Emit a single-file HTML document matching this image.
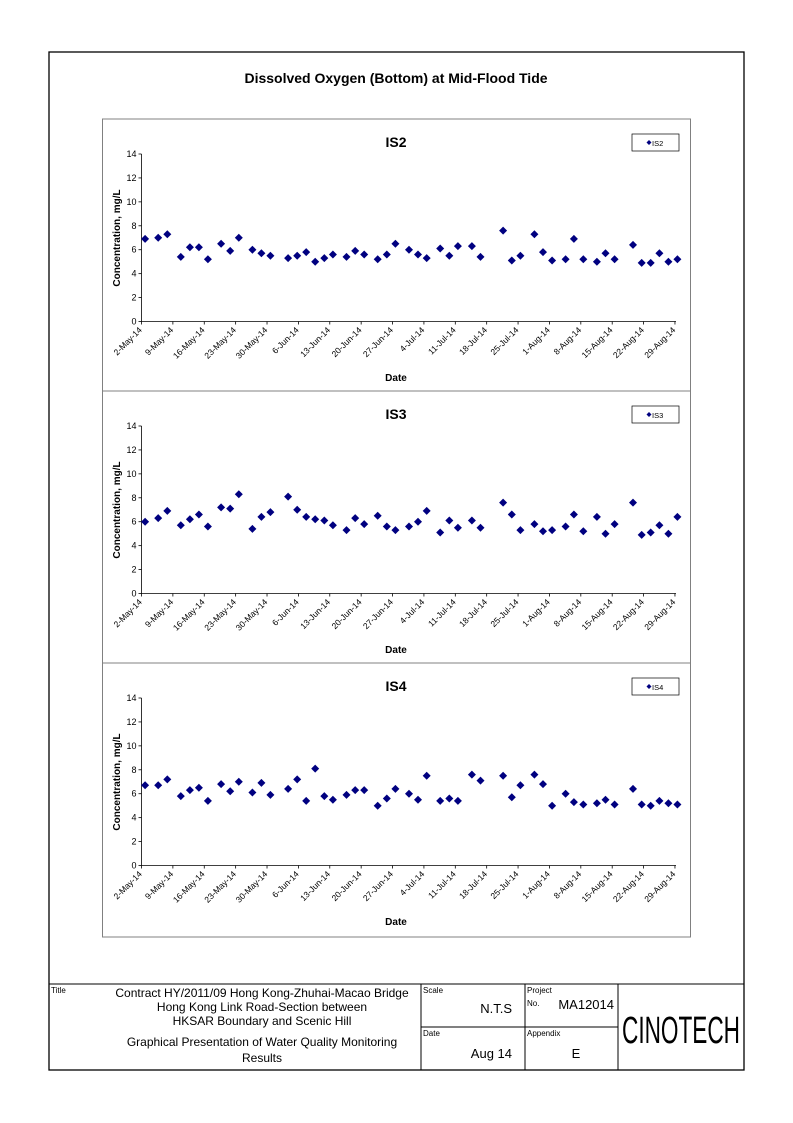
<!DOCTYPE html>
<html><head><meta charset="utf-8"><style>
html,body{margin:0;padding:0;background:#fff;}
svg{display:block;font-family:"Liberation Sans",Arial,sans-serif;}
</style></head><body>
<svg id="s" width="793" height="1123" viewBox="0 0 793 1123" xmlns="http://www.w3.org/2000/svg">
<rect x="0" y="0" width="793" height="1123" fill="#fff"/>
<rect x="49" y="52" width="695" height="1018" fill="none" stroke="#000" stroke-width="1.3"/>
<text x="396" y="83" font-size="14" font-weight="bold" text-anchor="middle">Dissolved Oxygen (Bottom) at Mid-Flood Tide</text>
<rect x="102.5" y="119" width="588" height="818" fill="none" stroke="#808080" stroke-width="1"/>
<line x1="102.5" y1="391" x2="690.5" y2="391" stroke="#808080"/>
<line x1="102.5" y1="663" x2="690.5" y2="663" stroke="#808080"/>
<g id="charts"></g>
<g stroke="#000" stroke-width="1" fill="none">
<line x1="49" y1="984" x2="744" y2="984"/>
<line x1="421" y1="984" x2="421" y2="1070"/>
<line x1="525" y1="984" x2="525" y2="1070"/>
<line x1="618" y1="984" x2="618" y2="1070"/>
<line x1="421" y1="1027" x2="618" y2="1027"/>
</g>
<g font-size="12" text-anchor="middle">
<text x="262" y="997">Contract HY/2011/09 Hong Kong-Zhuhai-Macao Bridge</text>
<text x="262" y="1011">Hong Kong Link Road-Section between</text>
<text x="262" y="1025">HKSAR Boundary and Scenic Hill</text>
<text x="262" y="1046">Graphical Presentation of Water Quality Monitoring</text>
<text x="262" y="1062">Results</text>
</g>
<g font-size="8">
<text x="51" y="993">Title</text>
<text x="423" y="993">Scale</text>
<text x="527" y="993">Project</text>
<text x="527" y="1006">No.</text>
<text x="423" y="1036">Date</text>
<text x="527" y="1036">Appendix</text>
</g>
<g font-size="13">
<text x="512" y="1013" text-anchor="end">N.T.S</text>
<text x="614" y="1009" text-anchor="end">MA12014</text>
<text x="512" y="1058" text-anchor="end">Aug 14</text>
<text x="576" y="1058" text-anchor="middle">E</text>
</g>
<text x="681" y="1043" font-size="38" text-anchor="middle" textLength="118" lengthAdjust="spacingAndGlyphs">CINOTECH</text>
</svg>
<script>
(function(){
var D=[
"112:6.9,147:7.0,171:7.3,207:5.4,231:6.2,255:6.2,279:5.2,314:6.5,338:5.9,361:7.0,397:6.0,421:5.7,445:5.5,492:5.3,516:5.5,540:5.8,564:5.0,588:5.3,611:5.6,647:5.4,670:5.9,694:5.6,730:5.2,754:5.6,777:6.5,813:6.0,837:5.6,860:5.3,896:6.1,920:5.5,943:6.3,980:6.3,1003:5.4,1063:7.6,1086:5.1,1109:5.5,1146:7.3,1169:5.8,1193:5.1,1229:5.2,1251:6.9,1276:5.2,1312:5.0,1335:5.7,1359:5.2,1408:6.4,1431:4.9,1455:4.9,1478:5.7,1502:5.0,1526:5.2",
"112:6.0,147:6.3,171:6.9,207:5.7,231:6.2,255:6.6,279:5.6,314:7.2,338:7.1,361:8.3,397:5.4,421:6.4,445:6.8,492:8.1,516:7.0,540:6.4,564:6.2,588:6.1,611:5.7,647:5.3,670:6.3,694:5.8,730:6.5,754:5.6,777:5.3,813:5.6,837:6.0,860:6.9,896:5.1,920:6.1,943:5.5,980:6.1,1003:5.5,1063:7.6,1086:6.6,1109:5.3,1146:5.8,1169:5.2,1193:5.3,1229:5.6,1251:6.6,1276:5.2,1312:6.4,1335:5.0,1359:5.8,1408:7.6,1431:4.9,1455:5.1,1478:5.7,1502:5.0,1526:6.4",
"112:6.7,147:6.7,171:7.2,207:5.8,231:6.3,255:6.5,279:5.4,314:6.8,338:6.2,361:7.0,397:6.1,421:6.9,445:5.9,492:6.4,516:7.2,540:5.4,564:8.1,588:5.8,611:5.5,647:5.9,670:6.3,694:6.3,730:5.0,754:5.6,777:6.4,813:6.0,837:5.5,860:7.5,896:5.4,920:5.6,943:5.4,980:7.6,1003:7.1,1063:7.5,1086:5.7,1109:6.7,1146:7.6,1169:6.8,1193:5.0,1229:6.0,1251:5.3,1276:5.1,1312:5.2,1335:5.5,1359:5.1,1408:6.4,1431:5.1,1455:5.0,1478:5.4,1502:5.2,1526:5.1"];
var names=["IS2","IS3","IS4"];
var dates=["2-May-14","9-May-14","16-May-14","23-May-14","30-May-14","6-Jun-14","13-Jun-14","20-Jun-14","27-Jun-14","4-Jul-14","11-Jul-14","18-Jul-14","25-Jul-14","1-Aug-14","8-Aug-14","15-Aug-14","22-Aug-14","29-Aug-14"];
var h="";
for(var p=0;p<3;p++){
 var o=p*272; var yTop=154+o, yBot=321.5+o, ax=141.5, right=676;
 var sy=function(v){return yBot-(yBot-yTop)*v/14;};
 h+='<text x="396" y="'+(147+o)+'" font-size="14" font-weight="bold" text-anchor="middle">'+names[p]+'</text>';
 h+='<rect x="632" y="'+(134+o)+'" width="47" height="17" fill="#fff" stroke="#000" stroke-width="0.7"/>';
 h+='<path d="M649,'+(140+o)+' l2.5,2.5 l-2.5,2.5 l-2.5,-2.5z" fill="#000080"/>';
 h+='<text x="652" y="'+(146+o)+'" font-size="7.5">'+names[p]+'</text>';
 h+='<line x1="'+ax+'" y1="'+yTop+'" x2="'+ax+'" y2="'+yBot+'" stroke="#000" stroke-width="0.8"/>';
 h+='<line x1="'+ax+'" y1="'+yBot+'" x2="'+right+'" y2="'+yBot+'" stroke="#000" stroke-width="0.8"/>';
 for(var v=0;v<=14;v+=2){var y=sy(v);
  h+='<line x1="'+(ax-3)+'" y1="'+y+'" x2="'+ax+'" y2="'+y+'" stroke="#000" stroke-width="0.8"/>';
  h+='<text x="'+(ax-5)+'" y="'+(y+3)+'" font-size="9" text-anchor="end">'+v+'</text>';}
 for(var i=0;i<18;i++){var x=ax+i*31.38;
  h+='<line x1="'+x+'" y1="'+yBot+'" x2="'+x+'" y2="'+(yBot+3)+'" stroke="#000" stroke-width="0.8"/>';
  h+='<text transform="translate('+(x+1)+','+(yBot+9)+') rotate(-45)" font-size="8.5" text-anchor="end">'+dates[i]+'</text>';}
 h+='<text transform="translate(120,'+(238+o)+') rotate(-90)" font-size="10" font-weight="bold" text-anchor="middle">Concentration, mg/L</text>';
 h+='<text x="396" y="'+(381+o)+'" font-size="10" font-weight="bold" text-anchor="middle">Date</text>';
 D[p].split(",").forEach(function(s){var a=s.split(":");var x=102.9+(+a[0])*0.3765, y=sy(+a[1]);
  h+='<path d="M'+x.toFixed(1)+','+(y-4).toFixed(1)+' l4,4 l-4,4 l-4,-4z" fill="#000080"/>';});
}
document.getElementById("charts").innerHTML=h;
})();
</script>
</body></html>
